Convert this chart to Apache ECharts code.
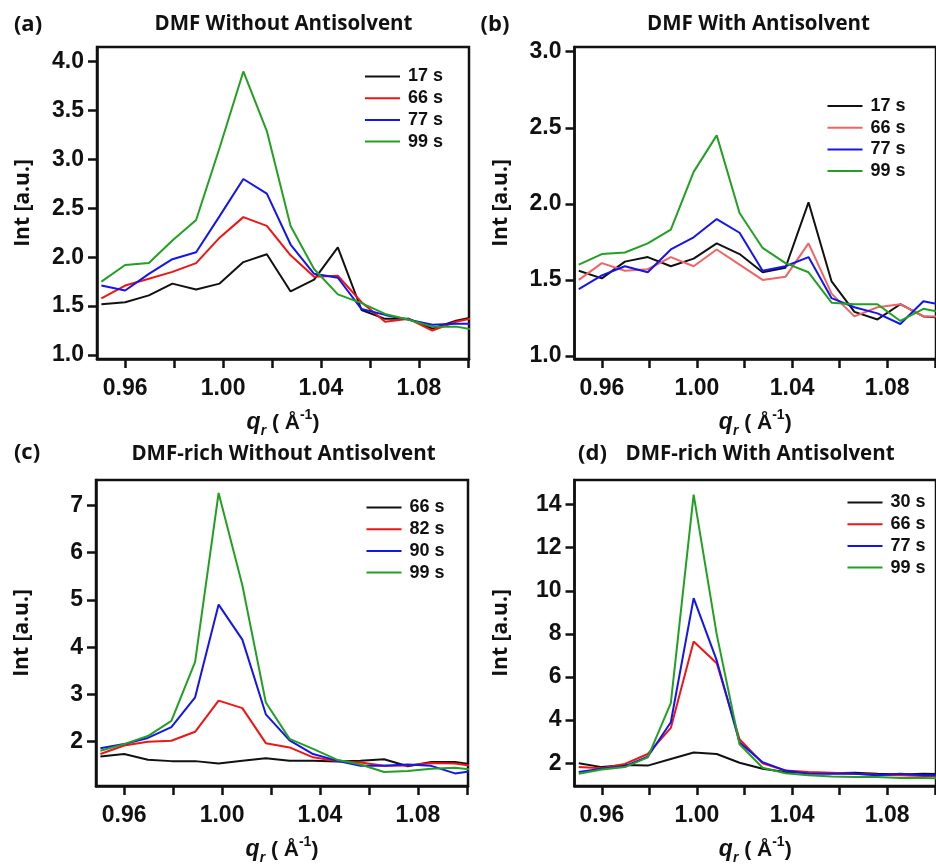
<!DOCTYPE html>
<html>
<head>
<meta charset="utf-8">
<script src="https://cdn.jsdelivr.net/npm/echarts@6/dist/echarts.min.js"></script>
<style>
html,body{margin:0;padding:0;background:#fff;}
#chart{width:936px;height:866px;}
</style>
</head>
<body>
<div id="chart"></div>
<script>
// scattering vector q_r (Å^-1), shared by all panels
const q = [0.9503, 0.9600, 0.9697, 0.9793, 0.9890, 0.9986, 1.0083, 1.0179, 1.0276, 1.0372, 1.0469, 1.0566, 1.0662, 1.0759, 1.0855, 1.0952, 1.1048];

// (a) DMF Without Antisolvent
const a17 = [1.52, 1.54, 1.61, 1.73, 1.67, 1.73, 1.95, 2.03, 1.65, 1.77, 2.10, 1.46, 1.37, 1.37, 1.27, 1.35, 1.40];
const a66 = [1.58, 1.71, 1.78, 1.85, 1.94, 2.20, 2.41, 2.32, 2.02, 1.80, 1.81, 1.54, 1.34, 1.37, 1.25, 1.34, 1.39];
const a77 = [1.71, 1.66, 1.83, 1.98, 2.05, 2.42, 2.80, 2.65, 2.13, 1.83, 1.79, 1.47, 1.41, 1.36, 1.31, 1.32, 1.32];
const a99 = [1.75, 1.92, 1.94, 2.17, 2.38, 3.12, 3.90, 3.29, 2.32, 1.88, 1.62, 1.53, 1.42, 1.36, 1.29, 1.29, 1.25];

// (b) DMF With Antisolvent
const b17 = [1.56, 1.51, 1.62, 1.65, 1.59, 1.64, 1.74, 1.67, 1.55, 1.58, 2.01, 1.49, 1.29, 1.24, 1.34, 1.26, 1.25];
const b66 = [1.50, 1.61, 1.56, 1.57, 1.65, 1.59, 1.70, 1.60, 1.50, 1.52, 1.74, 1.41, 1.26, 1.32, 1.34, 1.26, 1.26];
const b77 = [1.44, 1.53, 1.59, 1.55, 1.70, 1.78, 1.90, 1.81, 1.56, 1.59, 1.65, 1.38, 1.32, 1.28, 1.21, 1.36, 1.33];
const b99 = [1.60, 1.67, 1.68, 1.74, 1.83, 2.21, 2.45, 1.94, 1.71, 1.61, 1.55, 1.35, 1.34, 1.34, 1.23, 1.31, 1.28];

// (c) DMF-rich Without Antisolvent
const c66 = [1.69, 1.74, 1.62, 1.59, 1.59, 1.54, 1.60, 1.65, 1.60, 1.60, 1.58, 1.60, 1.63, 1.48, 1.57, 1.57, 1.50];
const c82 = [1.74, 1.92, 2.00, 2.02, 2.21, 2.87, 2.71, 1.97, 1.88, 1.67, 1.59, 1.56, 1.49, 1.50, 1.55, 1.54, 1.47];
const c90 = [1.86, 1.95, 2.08, 2.31, 2.94, 4.90, 4.16, 2.58, 2.03, 1.74, 1.60, 1.49, 1.49, 1.52, 1.49, 1.33, 1.40];
const c99 = [1.81, 1.95, 2.12, 2.44, 3.69, 7.26, 5.31, 2.83, 2.06, 1.85, 1.62, 1.52, 1.36, 1.38, 1.43, 1.45, 1.40];

// (d) DMF-rich With Antisolvent
const d30 = [2.00, 1.82, 1.92, 1.89, 2.20, 2.50, 2.43, 2.02, 1.74, 1.59, 1.56, 1.54, 1.56, 1.51, 1.48, 1.51, 1.50];
const d66 = [1.82, 1.77, 1.97, 2.43, 3.64, 7.65, 6.64, 3.11, 2.00, 1.66, 1.59, 1.56, 1.51, 1.47, 1.44, 1.41, 1.40];
const d77 = [1.59, 1.74, 1.86, 2.30, 3.90, 9.66, 6.77, 2.96, 2.05, 1.66, 1.51, 1.51, 1.51, 1.44, 1.51, 1.44, 1.44];
const d99 = [1.51, 1.71, 1.82, 2.27, 4.79, 14.46, 7.98, 2.88, 1.79, 1.54, 1.44, 1.39, 1.36, 1.36, 1.31, 1.31, 1.30];

// tick values / labels
const xTicks = [0.96, 0.98, 1.00, 1.02, 1.04, 1.06, 1.08, 1.10];
const xLabels = [0.96, 1.00, 1.04, 1.08];
const yTicksA = [1.0, 1.5, 2.0, 2.5, 3.0, 3.5, 4.0];
const yTicksB = [1.0, 1.5, 2.0, 2.5, 3.0];
const yTicksC = [2, 3, 4, 5, 6, 7];
const yTicksD = [2, 4, 6, 8, 10, 12, 14];

const panelTitles = ['DMF Without Antisolvent', 'DMF With Antisolvent', 'DMF-rich Without Antisolvent', 'DMF-rich With Antisolvent'];
const panelLabels = ['(a)', '(b)', '(c)', '(d)'];
const legendA = ['17 s', '66 s', '77 s', '99 s'];
const legendB = ['17 s', '66 s', '77 s', '99 s'];
const legendC = ['66 s', '82 s', '90 s', '99 s'];
const legendD = ['30 s', '66 s', '77 s', '99 s'];

const BLACK = '#111111', RED = '#f01414', BLUE = '#1414f0', GREEN = '#22a022', SALMON = '#f06464';

const grids = [
  {left: 97, top: 47, width: 372, height: 312},
  {left: 574.5, top: 47, width: 372, height: 312},
  {left: 96, top: 480, width: 372, height: 311},
  {left: 574.5, top: 480, width: 372, height: 311}
];
const yRanges = [[0.959, 4.150], [0.980, 3.031], [1.064, 7.535], [0.944, 15.14]];
const yTicks = [yTicksA, yTicksB, yTicksC, yTicksD];

const tickFont = {fontFamily: '"Liberation Sans", Arial, sans-serif', fontWeight: 'bold', fontSize: 23, color: '#111'};

const xAxes = grids.map((g, i) => ({
  type: 'value', gridIndex: i, min: 0.9485, max: 1.1005,
  axisLine: {show: true, onZero: false, lineStyle: {color: '#111', width: 2.5}},
  axisTick: {show: true, length: 9, customValues: xTicks, lineStyle: {color: '#111', width: 2.5}},
  axisLabel: Object.assign({show: true, margin: 18, customValues: xLabels, formatter: v => v.toFixed(2)}, tickFont),
  splitLine: {show: false},
  name: '{q|q}{r|r}{p| ( Å}{s|-1}{p|)}',
  nameLocation: 'middle', nameGap: 49,
  nameTextStyle: {
    rich: {
      q: {fontFamily: '"Liberation Sans", Arial', fontWeight: 'bold', fontStyle: 'italic', fontSize: 23, color: '#111', lineHeight: 30, verticalAlign: 'middle'},
      r: {fontFamily: '"Liberation Sans", Arial', fontWeight: 'bold', fontStyle: 'italic', fontSize: 14, color: '#111', verticalAlign: 'bottom', lineHeight: 30},
      p: {fontFamily: '"Liberation Sans", Arial', fontWeight: 'bold', fontSize: 21, color: '#111', verticalAlign: 'middle', lineHeight: 30},
      s: {fontFamily: '"Liberation Sans", Arial', fontWeight: 'bold', fontSize: 14, color: '#111', verticalAlign: 'top', lineHeight: 30}
    }
  }
}));

const yAxes = grids.map((g, i) => ({
  type: 'value', gridIndex: i, min: yRanges[i][0], max: yRanges[i][1],
  axisLine: {show: true, onZero: false, lineStyle: {color: '#111', width: 2.5}},
  axisTick: {show: true, length: 9, customValues: yTicks[i], lineStyle: {color: '#111', width: 2.5}},
  axisLabel: Object.assign({show: true, margin: 13, customValues: yTicks[i], formatter: v => (i < 2 ? v.toFixed(1) : String(Math.round(v)))}, tickFont),
  splitLine: {show: false},
  name: 'Int [a.u.]', nameLocation: 'middle', nameRotate: 90, nameGap: 63,
  nameTextStyle: {fontFamily: '"Open Sans", sans-serif', fontWeight: 'bold', fontSize: 21, color: '#111'}
}));

function mk(tag, name, ys, color, gi) {
  return {
    type: 'line', name: tag + '|' + name, xAxisIndex: gi, yAxisIndex: gi,
    data: q.map((x, k) => [x, ys[k]]),
    symbol: 'none', smooth: false, clip: true,
    lineStyle: {color: color, width: 2},
    itemStyle: {color: color},
    emphasis: {disabled: true}
  };
}

const series = [
  mk('a', legendA[0], a17, BLACK, 0), mk('a', legendA[1], a66, RED, 0), mk('a', legendA[2], a77, BLUE, 0), mk('a', legendA[3], a99, GREEN, 0),
  mk('b', legendB[0], b17, BLACK, 1), mk('b', legendB[1], b66, SALMON, 1), mk('b', legendB[2], b77, BLUE, 1), mk('b', legendB[3], b99, GREEN, 1),
  mk('c', legendC[0], c66, BLACK, 2), mk('c', legendC[1], c82, RED, 2), mk('c', legendC[2], c90, BLUE, 2), mk('c', legendC[3], c99, GREEN, 2),
  mk('d', legendD[0], d30, BLACK, 3), mk('d', legendD[1], d66, RED, 3), mk('d', legendD[2], d77, BLUE, 3), mk('d', legendD[3], d99, GREEN, 3)
];

function mkLegend(tag, names, left, top) {
  return {
    show: true, orient: 'vertical', left: left, top: top, padding: 0,
    itemWidth: 35, itemHeight: 2, itemGap: 3.7, icon: 'rect',
    selectedMode: false,
    data: names.map(n => tag + '|' + n),
    formatter: s => s.split('|')[1],
    textStyle: {fontFamily: '"Liberation Sans", Arial, sans-serif', fontWeight: 'bold', fontSize: 18, color: '#111', lineHeight: 18, padding: [0, 0, 0, 3]}
  };
}

const titleFont = '"Open Sans", sans-serif';
function txt(x, y, text, size) {
  return {type: 'text', x: x, y: y, silent: true,
    style: {text: text, fontFamily: titleFont, fontWeight: 'bold', fontSize: size, fill: '#111', align: 'center', verticalAlign: 'middle'}};
}

const option = {
  animation: false,
  backgroundColor: '#fff',
  grid: grids.map(g => Object.assign({show: true, borderColor: '#111', borderWidth: 2.5}, g)),
  xAxis: xAxes,
  yAxis: yAxes,
  legend: [
    mkLegend('a', legendA, 365, 67.5),
    mkLegend('b', legendB, 827.5, 97),
    mkLegend('c', legendC, 366.5, 498.5),
    mkLegend('d', legendD, 847.5, 493.5)
  ],
  graphic: [
    txt(283.5, 24, panelTitles[0], 20.5),
    txt(758.5, 24, panelTitles[1], 20.5),
    txt(283.5, 454, panelTitles[2], 20.5),
    txt(760, 454, panelTitles[3], 20.5),
    txt(28, 25, panelLabels[0], 22),
    txt(495, 25, panelLabels[1], 22),
    txt(27, 453, panelLabels[2], 22),
    txt(592.5, 454, panelLabels[3], 22)
  ],
  series: series
};

const chart = echarts.init(document.getElementById('chart'), null, {renderer: 'canvas'});
chart.setOption(option);
</script>
</body>
</html>
